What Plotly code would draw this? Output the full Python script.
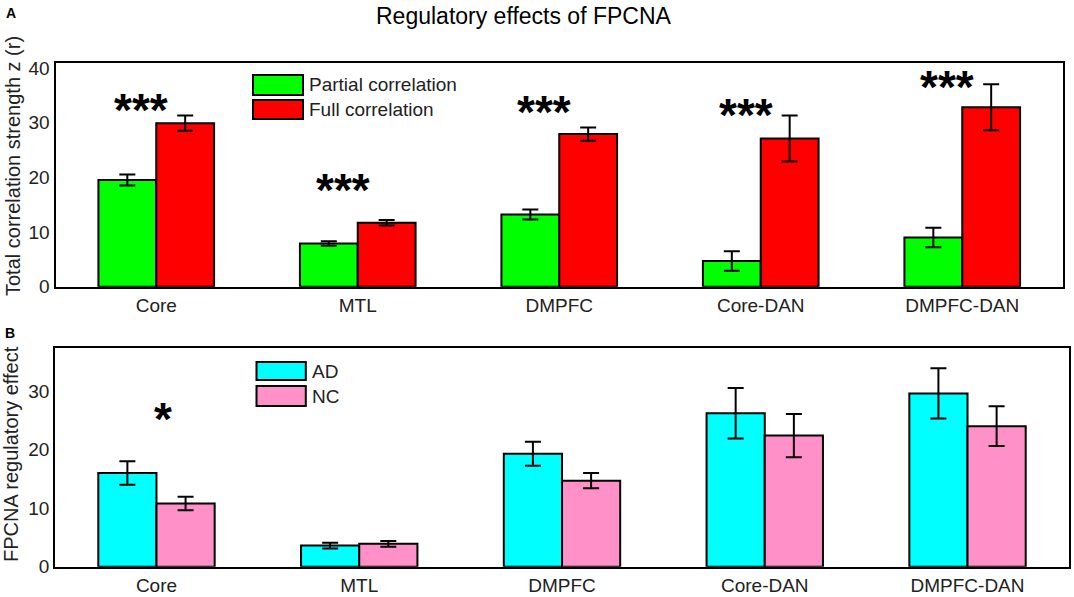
import plotly.graph_objects as go

regions = ["Core", "MTL", "DMPFC", "Core-DAN", "DMPFC-DAN"]

# panel A: total correlation strength
partial_corr = [19.5, 7.9, 13.2, 4.7, 9.0]
partial_err = [1.0, 0.4, 0.9, 1.8, 1.8]
full_corr = [29.9, 11.7, 27.9, 27.1, 32.8]
full_err = [1.4, 0.5, 1.2, 4.2, 4.2]
stars_a = ["***", "***", "***", "***", "***"]
stars_a_y = [33.6, 18.9, 33.2, 32.6, 37.8]

# panel B: FPCNA regulatory effect
ad_effect = [16.0, 3.6, 19.3, 26.2, 29.6]
ad_err = [2.0, 0.5, 2.05, 4.3, 4.3]
nc_effect = [10.8, 3.9, 14.7, 22.4, 24.0]
nc_err = [1.15, 0.5, 1.3, 3.7, 3.4]
stars_b = ["*", "", "", "", ""]
stars_b_y = [26.3, 0, 0, 0, 0]

FONT = "Arial, Liberation Sans, sans-serif"
W, H = 1074, 597


def fx(px):
    return px / W


def fy(py):
    return 1 - py / H


fig = go.Figure()


def add_bar(vals, errs, color, xa, ya):
    fig.add_trace(go.Bar(
        x=regions, y=vals, xaxis=xa, yaxis=ya,
        marker=dict(color=color, line=dict(color="black", width=2)),
        error_y=dict(type="data", array=errs, color="black", thickness=2, width=8),
        showlegend=False,
    ))


add_bar(partial_corr, partial_err, "#00FF00", "x", "y")
add_bar(full_corr, full_err, "#FF0000", "x", "y")
add_bar(ad_effect, ad_err, "#00FFFF", "x2", "y2")
add_bar(nc_effect, nc_err, "#FF90C8", "x2", "y2")

axis_common = dict(showline=True, linecolor="black", linewidth=2, mirror=True,
                   showgrid=False, zeroline=False, ticks="", automargin=False,
                   tickfont=dict(family=FONT, size=19, color="#222"))

fig.update_layout(
    width=W, height=H,
    margin=dict(l=0, r=0, t=0, b=0),
    paper_bgcolor="white", plot_bgcolor="white",
    barmode="group", bargap=0.426, bargroupgap=0,
    xaxis=dict(domain=[fx(55.5), fx(1063)], anchor="y", **axis_common),
    yaxis=dict(domain=[fy(286.7), fy(63.3)], range=[0, 40.85],
               tickvals=[0, 10, 20, 30, 40], anchor="x", **axis_common),
    xaxis2=dict(domain=[fx(55.1), fx(1068.9)], anchor="y2", **axis_common),
    yaxis2=dict(domain=[fy(566.7), fy(348.3)], range=[0, 37.3],
                tickvals=[0, 10, 20, 30], anchor="x2", **axis_common),
)


def paper_text(text, px, py, size, color="black", angle=0, xanchor="center"):
    return dict(text=text, x=fx(px), y=fy(py), xref="paper", yref="paper",
                xanchor=xanchor, yanchor="middle", textangle=angle, showarrow=False,
                font=dict(family=FONT, size=size, color=color))


ann = [
    paper_text("Regulatory effects of FPCNA", 524, 16, 23),
    paper_text("<b>A</b>", 11, 13, 14),
    paper_text("<b>B</b>", 10, 333, 14),
    paper_text("Total correlation strength z (r)", 13, 166, 20, "#222", -90),
    paper_text("FPCNA regulatory effect", 11, 454, 20, "#222", -90),
]

# significance stars
for r, s, sy in zip(regions, stars_a, stars_a_y):
    ann.append(dict(text="<b>%s</b>" % s, x=r, y=sy, xref="x", yref="y", showarrow=False,
                    xanchor="center", yanchor="middle", xshift=-15, yshift=-7,
                    font=dict(family=FONT, size=46, color="black")))
for r, s, sy in zip(regions, stars_b, stars_b_y):
    if s:
        ann.append(dict(text="<b>%s</b>" % s, x=r, y=sy, xref="x2", yref="y2", showarrow=False,
                        xanchor="center", yanchor="middle", xshift=7, yshift=-6,
                        font=dict(family=FONT, size=46, color="black")))

# legends drawn as swatches
shapes = []
legend_items = [
    ("Partial correlation", "#00FF00", 75, 95),
    ("Full correlation", "#FF0000", 100, 119),
    ("AD", "#00FFFF", 362, 380),
    ("NC", "#FF90C8", 386, 406),
]
for i, (label, col, y0, y1) in enumerate(legend_items):
    x0, x1 = (253, 303) if i < 2 else (256.5, 305.8)
    shapes.append(dict(type="rect", xref="paper", yref="paper",
                       x0=fx(x0), x1=fx(x1), y0=fy(y1), y1=fy(y0),
                       fillcolor=col, line=dict(color="black", width=2)))
    ann.append(paper_text(label, x1 + 4, (y0 + y1) / 2, 19, "#222", xanchor="left"))

fig.update_layout(annotations=ann, shapes=shapes)

# drop the default body margin so the figure sits at the page corner
fig.write_html("out.html", config={"displayModeBar": False},
               post_script="document.body.style.margin='0';")
